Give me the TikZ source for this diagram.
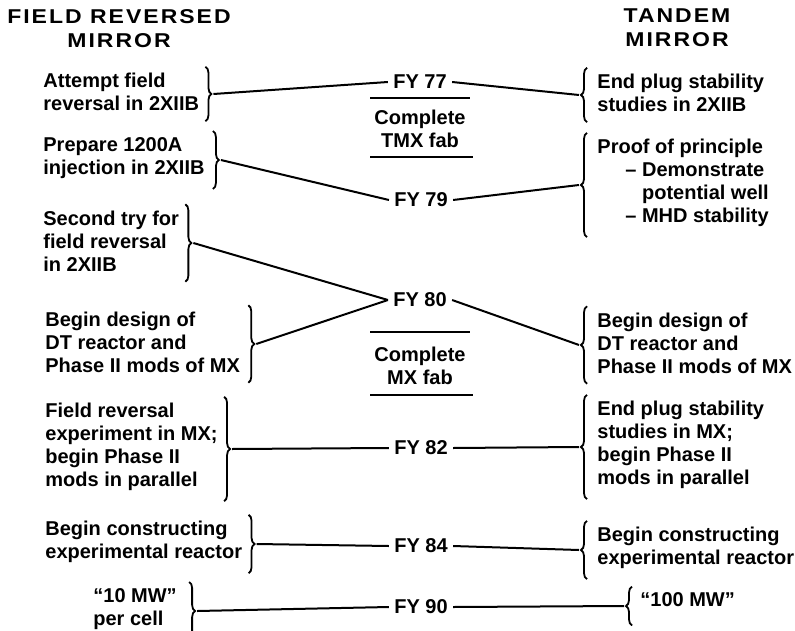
\documentclass[tikz,border=0pt]{standalone}
\usepackage{fontspec}
\setmainfont{Liberation Sans}
\usetikzlibrary{decorations.pathreplacing}

\begin{document}
\begin{tikzpicture}[x=0.5pt, y=-0.5pt,
  every node/.style={font=\fontsize{10}{11.5}\selectfont\bfseries, inner sep=0pt},
  item/.style={anchor=west, align=left},
  year/.style={inner sep=2.5pt},
  head/.style={align=center, font=\fontsize{10}{12}\selectfont\bfseries\addfontfeature{FakeStretch=1.15,LetterSpace=10}},
  link/.style={line width=1pt},
  bracer/.style={decorate, decoration={brace, amplitude=3pt}, line width=0.9pt}]
\useasboundingbox (0,0) rectangle (795,630);
\node[head] (TL) at (119,29) {FIELD REVERSED\\MIRROR};
\node[head] (TR) at (677,28) {TANDEM\\MIRROR};

\node[year] (Y77) at (420,82) {FY 77};
\node[year] (Y79) at (421,200) {FY 79};
\node[year] (Y80) at (420,300) {FY 80};
\node[year] (Y82) at (421,448) {FY 82};
\node[year] (Y84) at (421,546) {FY 84};
\node[year] (Y90) at (421,607) {FY 90};
\node[align=center] (C1) at (420,129) {Complete\\TMX fab};
\node[align=center] (C2) at (420,366) {Complete\\MX fab};
\draw[link] (370,98) -- (470,98);
\draw[link] (370,157) -- (473,157);
\draw[link] (370,332) -- (470,332);
\draw[link] (370,395) -- (473,395);

\node[item] (L1) at (43,92) {Attempt field\\reversal in 2XIIB};
\node[item] (L2) at (43,158) {Prepare 1200A\\injection in 2XIIB};
\node[item] (L3) at (43,241) {Second try for\\field reversal\\in 2XIIB};
\node[item] (L4) at (45,342) {Begin design of\\DT reactor and\\Phase II mods of MX};
\node[item] (L5) at (45,447) {Field reversal\\experiment in MX;\\begin Phase II\\mods in parallel};
\node[item] (L6) at (45,542) {Begin constructing\\experimental reactor};
\node[item] (L7) at (93,609) {“10 MW”\\per cell};

\node[item] (R1) at (597,93) {End plug stability\\studies in 2XIIB};
\node[item] (R2) at (597,183) {Proof of principle\\\hspace*{14pt}– Demonstrate\\\hspace*{14pt}\phantom{– }potential well\\\hspace*{14pt}– MHD stability};
\node[item] (R3) at (597,343) {Begin design of\\DT reactor and\\Phase II mods of MX};
\node[item] (R4) at (597,445) {End plug stability\\studies in MX;\\begin Phase II\\mods in parallel};
\node[item] (R5) at (597,548) {Begin constructing\\experimental reactor};
\node[item] (R6) at (640,600) {“100 MW”};

\foreach \n/\g in {L1/3pt, L2/4pt, L3/3pt, L4/4pt, L5/3pt, L6/3pt, L7/6pt}
  \draw[bracer] ([xshift=\g, yshift=3pt]\n.north east) -- ([xshift=\g, yshift=-5pt]\n.south east)
    coordinate[midway, xshift=4pt] (\n t);
\foreach \n in {R1, R2, R3, R4, R5}
  \draw[bracer] ([xshift=-5pt, yshift=-5pt]\n.south west) -- ([xshift=-5pt, yshift=3pt]\n.north west)
    coordinate[midway, xshift=-4pt] (\n t);
\draw[bracer] ([xshift=-4pt, yshift=-9pt]R6.south west) -- ([xshift=-4pt, yshift=3pt]R6.north west)
  coordinate[midway, xshift=-4pt] (R6t);

\draw[link] (L1t) -- (Y77.west);
\draw[link] (L2t) -- (Y79.west);
\draw[link] (L3t) -- (Y80.west);
\draw[link] (L4t) -- (Y80.west);
\draw[link] (L5t) -- (Y82.west);
\draw[link] (L6t) -- (Y84.west);
\draw[link] (L7t) -- (Y90.west);
\draw[link] (Y77.east) -- (R1t);
\draw[link] (Y79.east) -- (R2t);
\draw[link] (Y80.east) -- (R3t);
\draw[link] (Y82.east) -- (R4t);
\draw[link] (Y84.east) -- (R5t);
\draw[link] (Y90.east) -- (R6t);
\end{tikzpicture}
\end{document}
